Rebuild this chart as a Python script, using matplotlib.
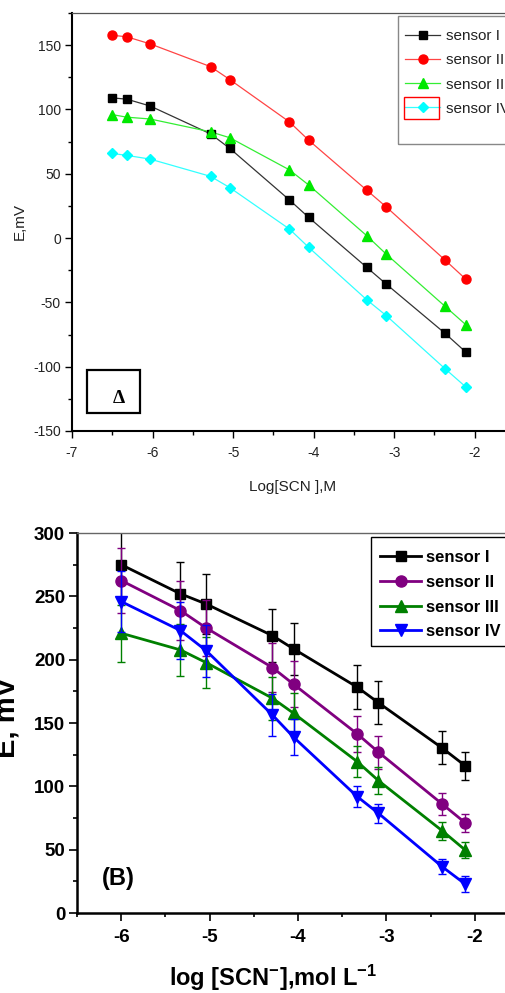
import matplotlib
matplotlib.use("Agg")
import matplotlib.pyplot as plt
from matplotlib.lines import Line2D
from matplotlib.patches import Rectangle
from matplotlib.ticker import MultipleLocator

plt.rcParams['font.family'] = ['Liberation Sans', 'DejaVu Sans']
plt.rcParams['mathtext.fontset'] = 'custom'
plt.rcParams['mathtext.rm'] = 'Liberation Sans:bold'
plt.rcParams['mathtext.default'] = 'rm'
plt.rcParams['axes.unicode_minus'] = False

# ---------------- data ----------------
labels = ["sensor I", "sensor II", "sensor III", "sensor IV"]

# panel A (top)
x_top = [-6.5, -6.32, -6.03, -5.28, -5.04, -4.3, -4.06, -3.34, -3.1, -2.37, -2.11]
top_I = [109, 108, 102.7, 81, 69.7, 29.6, 16, -22.8, -35.7, -74, -88.7]
top_II = [157.7, 156.5, 151, 133.3, 123.2, 90.3, 76, 37.2, 24.3, -17, -32]
top_III = [96, 94, 92.6, 82.6, 78, 53, 41.2, 1.8, -12.4, -53, -67.4]
top_IV = [65.8, 64.3, 61.4, 48, 39.2, 7, -7.3, -48, -60.2, -101.5, -115.8]

# panel B (bottom)
x_bot = [-6.0, -5.33, -5.04, -4.29, -4.05, -3.33, -3.09, -2.37, -2.11]
bot_I = [275, 252, 244, 219, 208.5, 178.3, 166, 130.3, 116.3]
bot_II = [262.5, 238.8, 225.1, 193.8, 180.6, 141.4, 127, 86.1, 71.3]
bot_III = [220.9, 207.7, 197.7, 169.6, 157.7, 119.5, 104.5, 65, 49.8]
bot_IV = [245.9, 223, 207.2, 156.4, 138.8, 91.9, 78.7, 36.6, 22.9]
err_I = [27, 25, 24, 21, 20.5, 17.5, 17, 13, 11]
err_II = [26, 23, 22, 19, 18, 14, 13, 8.5, 7]
err_III = [22.5, 20.5, 20, 17, 16, 12, 10.5, 7, 6]
err_IV = [24, 22.5, 20.5, 16.5, 14, 8, 7.5, 6, 6]

W, H = 506, 993
fig = plt.figure(figsize=(W / 100, H / 100), dpi=100)

def fx(px):
    return px / W

def fy(py):
    return 1 - py / H

# ---------------- top panel ----------------
axA = fig.add_axes([fx(72), fy(431), 443 / W, 418 / H])
top_series = [top_I, top_II, top_III, top_IV]
top_colors = ['#000000', '#FF0000', '#00E800', '#00FFFF']
top_lcolors = ['#333333', '#FF4444', '#33EE33', '#33FFFF']
top_markers = ['s', 'o', '^', 'D']
top_ms = [6, 6.5, 7, 5.5]
handlesA = []
for ys, c, lc, m, ms, lab in zip(top_series, top_colors, top_lcolors, top_markers, top_ms, labels):
    axA.plot(x_top, ys, color=lc, lw=0.9, zorder=2)
    axA.plot(x_top, ys, ls='none', marker=m, ms=ms, mfc=c, mec=c, zorder=3)
    handlesA.append(Line2D([], [], color=lc, lw=0.9, marker=m, ms=ms, mfc=c, mec=c))
axA.set_xlim(-7, -1.5)
axA.set_ylim(-150, 175)
axA.xaxis.set_major_locator(MultipleLocator(1))
axA.xaxis.set_minor_locator(MultipleLocator(0.5))
axA.yaxis.set_major_locator(MultipleLocator(50))
axA.yaxis.set_minor_locator(MultipleLocator(25))
axA.tick_params(which='both', direction='out', top=False, right=False, labelsize=10,
                labelcolor='#222222', width=1.0)
axA.tick_params(which='major', length=5)
axA.tick_params(which='minor', length=3)
axA.tick_params(axis='x', pad=6)
axA.tick_params(axis='y', pad=3)
for s in ['left', 'bottom']:
    axA.spines[s].set_linewidth(1.5)
axA.spines['top'].set_color('#555555')
axA.spines['top'].set_linewidth(0.9)
axA.spines['right'].set_visible(False)

legA = axA.legend(handlesA, labels, loc='upper left',
                  bbox_to_anchor=((397.7 - 72) / 443, 1 - (21.7 - 13) / 418),
                  borderaxespad=0, frameon=False,
                  fontsize=11, handlelength=2.3, handletextpad=0.35, labelspacing=0.66,
                  borderpad=0.5)
for t in legA.get_texts():
    t.set_color('#222222')
fig.patches.append(Rectangle((fx(397.7), fy(144)), 130 / W, 128 / H, transform=fig.transFigure,
                             fill=False, edgecolor='#888888', lw=1.0))

fig.text(fx(20), fy(222), "E,mV", rotation=90, ha='center', va='center', fontsize=11,
         color='#222222')
fig.text(fx(293), fy(487), "Log[SCN ],M", ha='center', va='center', fontsize=11,
         color='#222222')

fig.patches.append(Rectangle((fx(404), fy(119)), 35 / W, 22.3 / H, transform=fig.transFigure,
                             fill=False, edgecolor='red', lw=1.0))
fig.patches.append(Rectangle((fx(86.7), fy(413.3)), 53 / W, 43.3 / H, transform=fig.transFigure,
                             fill=False, edgecolor='black', lw=1.6))
fig.text(fx(119), fy(398), "Δ", ha='center', va='center', fontsize=14, fontweight='bold',
         family=['Liberation Serif', 'DejaVu Serif'])

# ---------------- bottom panel ----------------
axB = fig.add_axes([fx(77), fy(913), 442 / W, 380 / H])
bot_series = [bot_I, bot_II, bot_III, bot_IV]
bot_errs = [err_I, err_II, err_III, err_IV]
bot_colors = ['#000000', '#800080', '#008000', '#0000FF']
bot_markers = ['s', 'o', '^', 'v']
bot_ms = [7.5, 8, 8.5, 8.5]
handlesB = []
for i, (ys, es, c, m, ms, lab) in enumerate(zip(bot_series, bot_errs, bot_colors, bot_markers,
                                                bot_ms, labels)):
    axB.errorbar(x_bot, ys, yerr=es, color=c, lw=2.0, marker=m, ms=ms, mfc=c, mec=c,
                 ecolor=c, elinewidth=1.0, capsize=2.9, capthick=1.0, zorder=2 + i)
    handlesB.append(Line2D([], [], color=c, lw=2.0, marker=m, ms=ms, mfc=c, mec=c))
axB.set_xlim(-6.5, -1.5)
axB.set_ylim(0, 300)
axB.xaxis.set_major_locator(MultipleLocator(1))
axB.xaxis.set_minor_locator(MultipleLocator(0.5))
axB.yaxis.set_major_locator(MultipleLocator(50))
axB.yaxis.set_minor_locator(MultipleLocator(25))
axB.tick_params(which='both', direction='out', top=False, right=False, labelsize=13.5,
                width=1.2)
axB.tick_params(which='major', length=5.5)
axB.tick_params(which='minor', length=3)
axB.tick_params(axis='x', pad=6)
axB.tick_params(axis='y', pad=3)
for lab in axB.get_xticklabels() + axB.get_yticklabels():
    lab.set_fontweight('bold')
for s in ['left', 'bottom']:
    axB.spines[s].set_linewidth(1.8)
axB.spines['top'].set_color('#666666')
axB.spines['top'].set_linewidth(1.0)
axB.spines['right'].set_visible(False)

legB = axB.legend(handlesB, labels, loc='upper left',
                  bbox_to_anchor=((371 - 77) / 442, 1 - (541 - 533) / 380),
                  borderaxespad=0, frameon=False,
                  prop={'size': 12, 'weight': 'bold'}, handlelength=2.45,
                  handletextpad=0.3, labelspacing=0.58, borderpad=0.55)
fig.patches.append(Rectangle((fx(371), fy(646)), 150 / W, 109 / H, transform=fig.transFigure,
                             fill=False, edgecolor='black', lw=1.0))

fig.text(fx(7), fy(718), "E, mV", rotation=90, ha='center', va='center', fontsize=21,
         fontweight='bold')
fig.text(fx(273), fy(978), r"log [SCN$^{-}$],mol L$^{-1}$", ha='center', va='center',
         fontsize=17, fontweight='bold')
fig.text(fx(118.5), fy(878), "(B)", ha='center', va='center', fontsize=17, fontweight='bold')

fig.savefig("out.png", dpi=100)
